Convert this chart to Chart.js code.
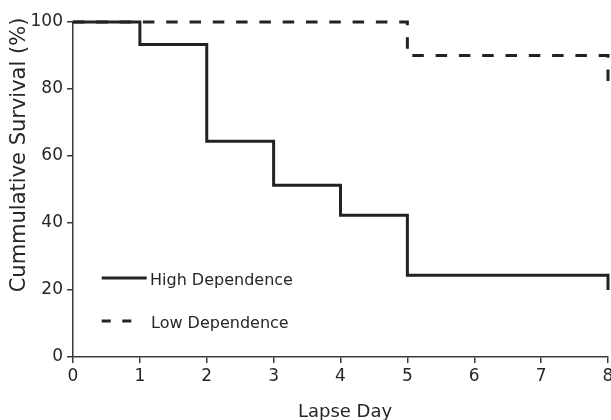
<!DOCTYPE html>
<html><head><meta charset="utf-8">
<script src="https://cdn.jsdelivr.net/npm/chart.js@4.4.1/dist/chart.umd.min.js"></script>
<style>html,body{margin:0;padding:0;overflow:hidden;background:#fff;width:611px;height:420px}canvas{display:block}</style>
</head><body>
<canvas id="c" width="640" height="420"></canvas>
<script>
// ---- data ----
const seriesNames = ['High Dependence', 'Low Dependence'];
const highDays = [0, 1, 2, 3, 4, 5, 8];
const highSurvival = [100, 93.3, 64.4, 51.3, 42.3, 24.4, 20];
const lowDays = [0, 5, 8];
const lowSurvival = [100, 90, 82];
const xTickValues = [0, 1, 2, 3, 4, 5, 6, 7, 8];
const yTickValues = [0, 20, 40, 60, 80, 100];
const xTitle = 'Lapse Day';
const yTitle = 'Cummulative Survival (%)';

const FONT = "'DejaVu Sans', sans-serif";
const TEXT = '#262626';
const LINE = '#222222';
const AXIS = '#3a3a3a';

const toPoints = (xs, ys) => xs.map((x, i) => ({x: x, y: ys[i]}));

const titlesAndLegend = {
  id: 'titlesAndLegend',
  afterDraw(chart) {
    const ctx = chart.ctx;
    ctx.save();
    ctx.fillStyle = TEXT;
    // x title
    ctx.font = "18px " + FONT;
    ctx.textAlign = 'center';
    ctx.textBaseline = 'alphabetic';
    ctx.fillText(xTitle, 345, 416.5);
    // y title
    ctx.save();
    ctx.translate(25, 155);
    ctx.rotate(-Math.PI / 2);
    ctx.font = "21px " + FONT;
    ctx.fillText(yTitle, 0, 0);
    ctx.restore();
    // legend
    const rows = [{y: 278, ty: 285, tx: 150, x1: 101.7, x2: 146.7},
                  {y: 321, ty: 328.3, tx: 151, x1: 101.7, x2: 133.3}];
    chart.data.datasets.forEach((ds, i) => {
      const r = rows[i];
      ctx.strokeStyle = ds.borderColor;
      ctx.lineWidth = ds.borderWidth;
      ctx.setLineDash(i === 1 ? [9, 11.6] : []);
      ctx.lineCap = 'butt';
      ctx.beginPath();
      ctx.moveTo(r.x1, r.y);
      ctx.lineTo(r.x2, r.y);
      ctx.stroke();
      ctx.setLineDash([]);
      ctx.font = "16px " + FONT;
      ctx.textAlign = 'left';
      ctx.textBaseline = 'alphabetic';
      ctx.fillText(ds.label, r.tx, r.ty);
    });
    ctx.restore();
  }
};

new Chart(document.getElementById('c'), {
  type: 'line',
  data: {
    datasets: [
      {label: seriesNames[0], data: toPoints(highDays, highSurvival), stepped: 'before',
       borderColor: LINE, borderWidth: 3, pointRadius: 0, fill: false, clip: false, order: 1},
      {label: seriesNames[1], data: toPoints(lowDays, lowSurvival), stepped: 'before',
       borderColor: LINE, borderWidth: 3, borderDash: [11.5, 11.8], pointRadius: 0, fill: false, clip: false, order: 2}
    ]
  },
  options: {
    responsive: false,
    animation: false,
    devicePixelRatio: 1,
    layout: {padding: {top: 22, right: 32, left: 0, bottom: 0}},
    plugins: {legend: {display: false}, tooltip: {enabled: false}},
    scales: {
      x: {
        type: 'linear', min: 0, max: 8,
        afterBuildTicks: s => { s.ticks = xTickValues.map(v => ({value: v})); },
        afterFit: s => { s.height = 63; },
        grid: {drawOnChartArea: false, drawTicks: true, tickLength: 6, color: AXIS, lineWidth: 1.5},
        border: {display: true, color: AXIS, width: 1.5},
        ticks: {color: TEXT, font: {family: FONT, size: 17}, padding: 3, maxRotation: 0, autoSkip: false}
      },
      y: {
        min: 0, max: 100,
        afterBuildTicks: s => { s.ticks = yTickValues.map(v => ({value: v})); },
        afterFit: s => { s.width = 73; },
        grid: {drawOnChartArea: false, drawTicks: true, tickLength: 6, color: AXIS, lineWidth: 1.5},
        border: {display: true, color: AXIS, width: 1.5},
        ticks: {color: TEXT, font: {family: FONT, size: 17}, padding: 4}
      }
    }
  },
  plugins: [titlesAndLegend]
});
</script>
</body></html>
